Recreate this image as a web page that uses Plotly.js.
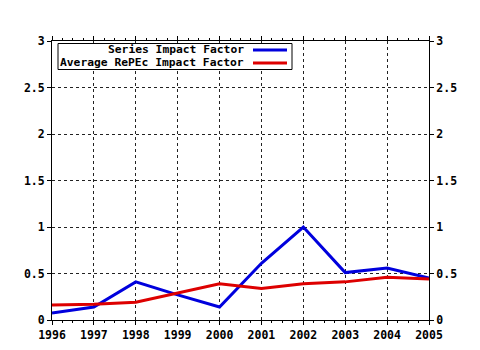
<!DOCTYPE html>
<html><head><meta charset="utf-8">
<script src="https://cdn.plot.ly/plotly-3.0.1.min.js"></script>
<style>html,body{margin:0;padding:0;background:#fff}#chart{width:480px;height:350px}</style>
</head><body><div id="chart"></div>
<script>
const years = [1996,1997,1998,1999,2000,2001,2002,2003,2004,2005];
const seriesIF = [0.075,0.14,0.41,0.27,0.14,0.61,1.0,0.51,0.56,0.45];
const avgRePEcIF = [0.16,0.17,0.19,0.29,0.39,0.34,0.39,0.41,0.46,0.44];
const seriesNames = ["Series Impact Factor","Average RePEc Impact Factor"];
const seriesColors = ["#0000dd","#dd0000"];
const yTicks = [0,0.5,1,1.5,2,2.5,3];
const yTickText = ["0","0.5","1","1.5","2","2.5","3"];

const font = {family:"DejaVu Sans Mono", size:11.5, color:"#000", weight:"bold"};
const legendFont = {family:"DejaVu Sans Mono", size:11.3, color:"#000", weight:"bold"};

const traces = [
  {x:years, y:seriesIF, type:"scatter", mode:"lines", name:seriesNames[0], line:{color:seriesColors[0], width:3}, showlegend:false},
  {x:years, y:avgRePEcIF, type:"scatter", mode:"lines", name:seriesNames[1], line:{color:seriesColors[1], width:3}, showlegend:false},
  {x:years, y:avgRePEcIF, yaxis:"y2", type:"scatter", mode:"lines", line:{width:0}, opacity:0, hoverinfo:"skip", showlegend:false}
];

const axisCommon = {showline:true, linecolor:"#000", linewidth:1, ticks:"outside", ticklen:4, tickcolor:"#000", tickfont:font, zeroline:false};

const rowY = [50, 63];
const legendRows = seriesNames.map((n,i)=>({text:n, color:seriesColors[i]}));
const annotations = legendRows.map((r,i)=>({xref:"paper", yref:"paper", x:(245-52)/377, y:(320-rowY[i])/279, xanchor:"right", yanchor:"middle", text:r.text, showarrow:false, font:legendFont, borderpad:0}));
const shapes = [{type:"rect", xref:"paper", yref:"paper", x0:(58-52)/377, x1:(292-52)/377, y0:(320-69.5)/279, y1:(320-43.5)/279, line:{color:"#000", width:1}, fillcolor:"#fff", layer:"above"}];
legendRows.forEach((r,i)=>{
  shapes.push({type:"line", xref:"paper", yref:"paper", x0:(253-52)/377, x1:(287-52)/377, y0:(320-rowY[i])/279, y1:(320-rowY[i])/279, line:{color:r.color, width:3}, layer:"above"});
});

const layout = {
  width:480, height:350,
  margin:{l:52, r:51, t:41, b:30},
  paper_bgcolor:"#fff", plot_bgcolor:"#fff",
  font:font,
  showlegend:false,
  xaxis:Object.assign({}, axisCommon, {range:[1996,2005], tickvals:years, ticktext:years.map(String), mirror:"ticks", showgrid:true, gridcolor:"#222", griddash:"dot", gridwidth:1, minor:{dtick:0.25, ticks:"outside", ticklen:2, tickcolor:"#000", showgrid:false}}),
  yaxis:Object.assign({}, axisCommon, {range:[0,3], tickvals:yTicks, ticktext:yTickText, mirror:true, showgrid:true, gridcolor:"#222", griddash:"dot", gridwidth:1}),
  yaxis2:Object.assign({}, axisCommon, {range:[0,3], tickvals:yTicks, ticktext:yTickText, overlaying:"y", side:"right", showgrid:false}),
  annotations:annotations,
  shapes:shapes
};

Plotly.newPlot("chart", traces, layout, {staticPlot:true});
</script></body></html>
